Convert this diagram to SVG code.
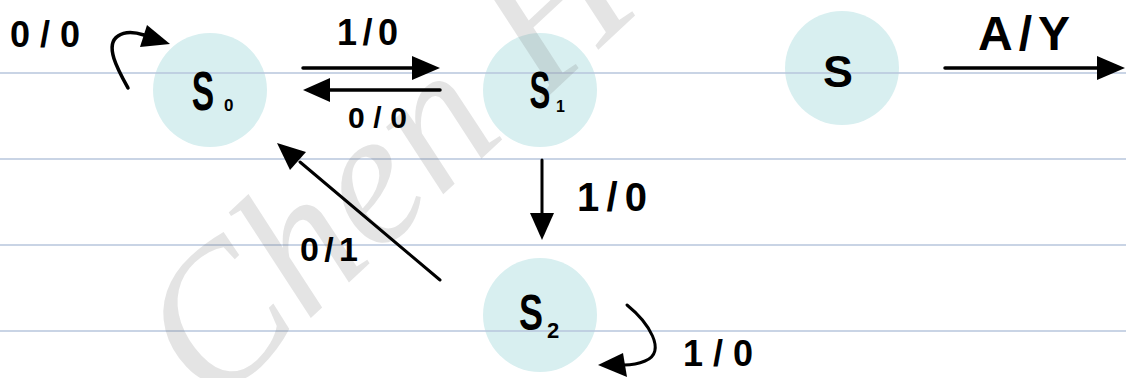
<svg xmlns="http://www.w3.org/2000/svg" width="1126" height="378" viewBox="0 0 1126 378">
  <defs>
    <style>
      .rule { stroke: #b7c6dc; stroke-width: 1.5; }
      .state { fill: #d8eff0; }
      .ink { fill: #000; font-family: "Liberation Sans", Arial, sans-serif; font-weight: bold; }
      .wire { stroke: #000; stroke-width: 3.5; fill: none; stroke-linecap: round; }
      .head { fill: #000; }
      .wm { font-family: "Liberation Serif", "Times New Roman", serif; font-style: italic; fill: #7a7a7a; fill-opacity: 0.2; }
    </style>
  </defs>
  <rect x="0" y="0" width="1126" height="378" fill="#ffffff"/>

  <g id="states-bg">
    <circle class="state" cx="210" cy="90" r="57"/>
    <circle class="state" cx="540" cy="90" r="57"/>
    <circle class="state" cx="842" cy="68" r="57"/>
    <circle class="state" cx="540" cy="315" r="57"/>
  </g>

  <g id="ruled-lines">
    <line class="rule" x1="0" y1="73" x2="1126" y2="73"/>
    <line class="rule" x1="0" y1="159" x2="1126" y2="159"/>
    <line class="rule" x1="0" y1="245" x2="1126" y2="245"/>
    <line class="rule" x1="0" y1="331" x2="1126" y2="331"/>
  </g>

  <text class="wm" x="212" y="410" font-size="192" transform="rotate(-43 212 410)">Chen H</text>

  <g id="node-S0">
    <text class="ink" font-size="56" text-anchor="middle" transform="translate(203,110) scale(0.6,1)">S</text>
    <text class="ink" x="224" y="111" font-size="17">0</text>
  </g>
  <g id="node-S1">
    <text class="ink" font-size="52" text-anchor="middle" transform="translate(540,108) scale(0.6,1)">S</text>
    <text class="ink" x="556" y="112" font-size="16">1</text>
  </g>
  <g id="node-S2">
    <text class="ink" font-size="50" text-anchor="middle" transform="translate(531,330) scale(0.72,1)">S</text>
    <text class="ink" x="547" y="338" font-size="22">2</text>
  </g>
  <g id="node-S">
    <text class="ink" font-size="44" text-anchor="middle" transform="translate(838,87) scale(1.02,1)">S</text>
  </g>

  <g id="connectors">
    <!-- S0 self loop -->
    <path class="wire" d="M128,88 C118,70 104,45 118,36 C125,31 135,32 144,35"/>
    <polygon class="head" points="170,44 147,25 140,47"/>
    <!-- S0 -> S1 -->
    <line class="wire" x1="303" y1="68" x2="414" y2="68"/>
    <polygon class="head" points="440,68 412,56 412,80"/>
    <!-- S1 -> S0 -->
    <line class="wire" x1="440" y1="90" x2="328" y2="90"/>
    <polygon class="head" points="303,90 330,78 330,102"/>
    <!-- S1 -> S2 -->
    <line class="wire" x1="542" y1="160" x2="542" y2="215" style="stroke-width:3"/>
    <polygon class="head" points="542,240 530,213 554,213"/>
    <!-- S2 -> S0 -->
    <line class="wire" x1="440" y1="280" x2="300" y2="162" style="stroke-width:3"/>
    <polygon class="head" points="277,143 290,170 306,152"/>
    <!-- S2 self loop -->
    <path class="wire" d="M627,305 C648,322 668,352 645,361 C638,364 632,365 624,365" style="stroke-width:3"/>
    <polygon class="head" points="598,365 623,353 627,377"/>
    <!-- S output -->
    <line class="wire" x1="945" y1="68" x2="1100" y2="68"/>
    <polygon class="head" points="1125,68 1097,56 1097,80"/>
  </g>

  <g id="labels">
    <text class="ink" x="10" y="47" font-size="36" textLength="70" lengthAdjust="spacing">0/0</text>
    <text class="ink" x="337" y="45" font-size="36" textLength="61" lengthAdjust="spacing">1/0</text>
    <text class="ink" x="348" y="128" font-size="30" textLength="59" lengthAdjust="spacing">0/0</text>
    <text class="ink" x="577" y="211" font-size="40" textLength="70" lengthAdjust="spacing">1/0</text>
    <text class="ink" x="300" y="261" font-size="34" textLength="58" lengthAdjust="spacing">0/1</text>
    <text class="ink" x="683" y="366" font-size="36" textLength="70" lengthAdjust="spacing">1/0</text>
    <text class="ink" x="978" y="50" font-size="48" textLength="92" lengthAdjust="spacing">A/Y</text>
  </g>
</svg>
